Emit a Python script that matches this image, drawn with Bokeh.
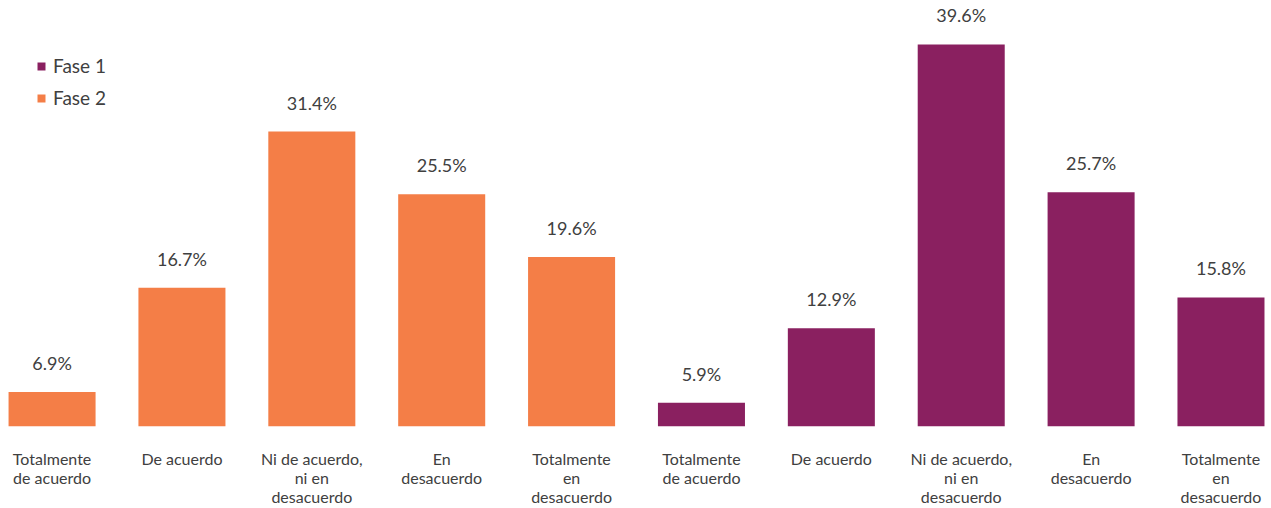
from bokeh.plotting import figure
from bokeh.models import (ColumnDataSource, Range1d, FixedTicker, Legend, LegendItem)
from bokeh.core.properties import value
from bokeh.embed import file_html
from bokeh.resources import INLINE

# ---- data ----
categories = ["Totalmente\nde acuerdo", "De acuerdo", "Ni de acuerdo,\nni en\ndesacuerdo",
              "En\ndesacuerdo", "Totalmente\nen\ndesacuerdo"]
fase2_values = [6.9, 16.7, 31.4, 25.5, 19.6]
fase1_values = [5.9, 12.9, 39.6, 25.7, 15.8]
series_names = ["Fase 1", "Fase 2"]

ORANGE = "#F47E47"
PURPLE = "#8A2060"
TEXT = "#404040"
FONT = "Lato"

n = len(categories)
x2 = list(range(n))
x1 = [n + i for i in range(n)]

src2 = ColumnDataSource(dict(x=x2, v=fase2_values, lab=[f"{v:.1f}%" for v in fase2_values]))
src1 = ColumnDataSource(dict(x=x1, v=fase1_values, lab=[f"{v:.1f}%" for v in fase1_values]))

p = figure(width=1271, height=508, output_backend="svg", toolbar_location=None,
           x_range=Range1d(-0.397, 2 * n - 1 + 0.389), y_range=Range1d(3.66, 43.73),
           y_axis_location=None, min_border_left=0, min_border_right=0,
           min_border_top=0, min_border_bottom=0, outline_line_color=None,
           background_fill_color="white", border_fill_color="white")

r2 = p.vbar(x="x", top="v", bottom=0, width=0.67, source=src2, fill_color=ORANGE, line_color=None)
r1 = p.vbar(x="x", top="v", bottom=0, width=0.67, source=src1, fill_color=PURPLE, line_color=None)

for s in (src2, src1):
    p.text(x="x", y="v", text="lab", source=s, text_align="center", text_baseline="bottom",
           y_offset=-18, text_font=value(FONT), text_font_size="18px", text_color=TEXT)

p.xgrid.visible = False
p.ygrid.visible = False

ax = p.xaxis[0]
ax.ticker = FixedTicker(ticks=x2 + x1)
ax.major_label_overrides = {i: categories[i % n] for i in x2 + x1}
ax.axis_line_color = None
ax.major_tick_line_color = None
ax.minor_tick_line_color = None
ax.major_tick_out = 0
ax.major_tick_in = 0
ax.major_label_standoff = 22
ax.major_label_text_font = FONT
ax.major_label_text_font_size = "16px"
ax.major_label_text_color = TEXT
ax.major_label_text_line_height = 1.0

legend = Legend(items=[LegendItem(label=series_names[0], renderers=[r1]),
                       LegendItem(label=series_names[1], renderers=[r2])],
                location=(36, 317), orientation="vertical",
                glyph_width=10, glyph_height=10, label_height=22, spacing=9,
                label_standoff=7, padding=0, margin=0,
                border_line_color=None, background_fill_alpha=0,
                label_text_font=FONT, label_text_font_size="19px", label_text_color=TEXT)
p.add_layout(legend)

open("out.html", "w").write(file_html(p, INLINE))
